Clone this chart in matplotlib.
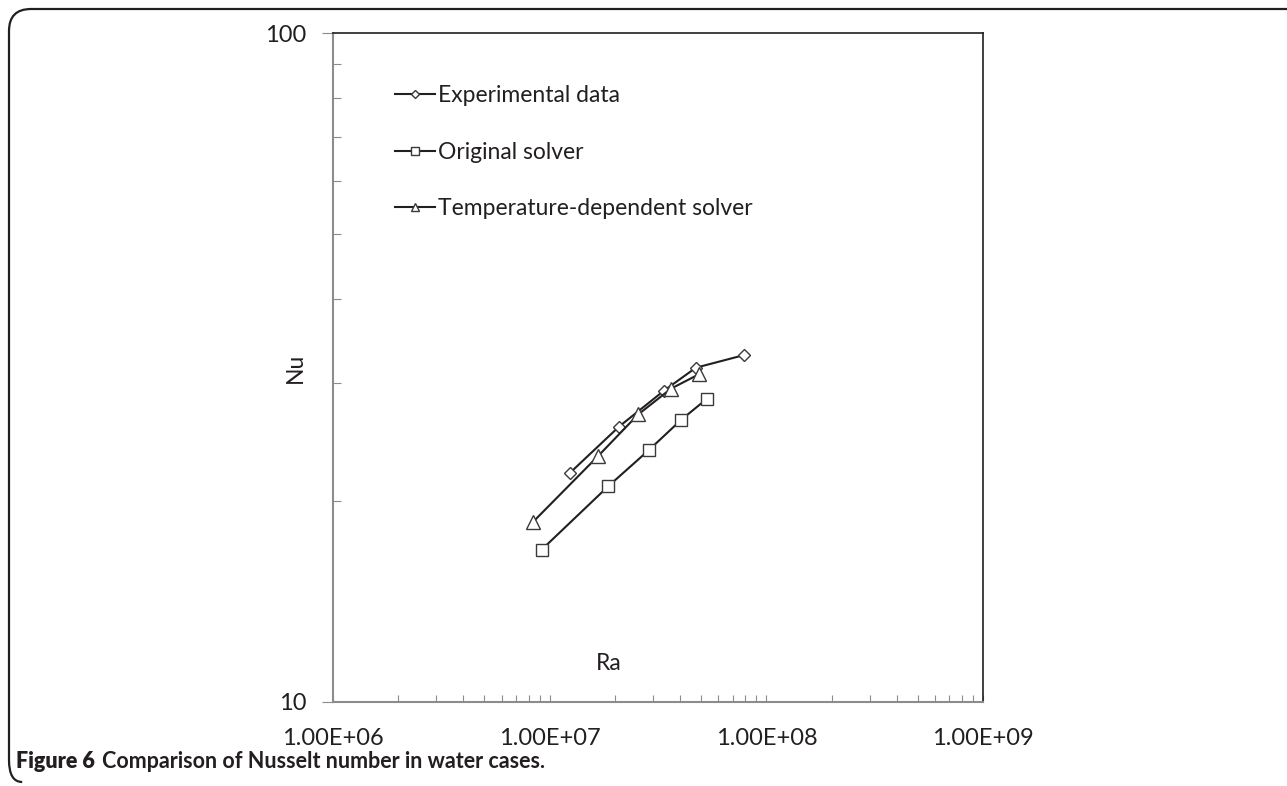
import numpy as np
import matplotlib
matplotlib.use("Agg")
from matplotlib import pyplot as plt
from matplotlib.path import Path
from matplotlib.patches import PathPatch
from matplotlib.ticker import FixedLocator, NullFormatter

plt.rcParams['font.family'] = ['Lato', 'DejaVu Sans']

# data
ra_exp = [1.24e7, 2.09e7, 3.37e7, 4.73e7, 7.88e7]
nu_exp = [22.0, 25.8, 29.2, 31.6, 33.0]

ra_orig = [9.2e6, 1.86e7, 2.87e7, 4.04e7, 5.32e7]
nu_orig = [16.9, 21.0, 23.8, 26.4, 28.4]

ra_temp = [8.4e6, 1.67e7, 2.56e7, 3.63e7, 4.89e7]
nu_temp = [18.6, 23.3, 26.9, 29.4, 30.9]

labels = ['Experimental data', 'Original solver', 'Temperature-dependent solver']
xticks = [1e6, 1e7, 1e8, 1e9]
xticklabels = ['1.00E+06', '1.00E+07', '1.00E+08', '1.00E+09']

txt = '#231f20'
W, H = 1287, 786
fig = plt.figure(figsize=(W / 100, H / 100), dpi=100)
ax = fig.add_axes([333 / W, 1 - 702 / H, 650 / W, 669 / H])

line_kw = dict(color='#231f20', lw=1.5, mfc='white', mec='#3a3a3a', mew=1.0)
ax.plot(ra_exp, nu_exp, marker='D', ms=6.5, label=labels[0], **line_kw)
ax.plot(ra_orig, nu_orig, marker='s', ms=9, label=labels[1], **line_kw)
ax.plot(ra_temp, nu_temp, marker='^', ms=9.5, label=labels[2], **line_kw)

ax.set_xscale('log')
ax.set_yscale('log')
ax.set_xlim(1e6, 1e9)
ax.set_ylim(10, 100)

ax.xaxis.set_major_locator(FixedLocator(xticks))
ax.set_xticklabels(xticklabels)
ax.xaxis.set_minor_locator(FixedLocator([m * 10 ** e for e in range(6, 9) for m in range(2, 10)]))
ax.xaxis.set_minor_formatter(NullFormatter())
ax.yaxis.set_major_locator(FixedLocator([10, 100]))
ax.set_yticklabels(['10', '100'])
ax.yaxis.set_minor_locator(FixedLocator([m * 10 for m in range(2, 10)]))
ax.yaxis.set_minor_formatter(NullFormatter())

ax.tick_params(axis='x', which='both', direction='in', length=5, width=0.8,
               color='#8c8c8c', labelsize=17, labelcolor=txt, pad=19)
ax.tick_params(axis='y', which='major', direction='out', length=8, width=0.8,
               color='#8c8c8c', labelsize=17, labelcolor=txt, pad=11)
ax.tick_params(axis='y', which='minor', direction='in', length=6, width=0.8,
               color='#8c8c8c')

for s in ['left', 'bottom']:
    ax.spines[s].set_color('#8c8c8c')
    ax.spines[s].set_linewidth(1.5)
for s in ['top', 'right']:
    ax.spines[s].set_color('#231f20')
    ax.spines[s].set_linewidth(1.2)

ax.set_ylabel('Nu', fontsize=16.5, color=txt)
ax.yaxis.set_label_coords(-0.042, 0.5)
ax.text(0.425, 0.058, 'Ra', transform=ax.transAxes, fontsize=16.5, color=txt,
        ha='center', va='center')

leg = ax.legend(loc='upper left', bbox_to_anchor=(0.063, 0.953), frameon=False,
                fontsize=16.5, handlelength=1.75, handletextpad=0.15, labelspacing=1.55,
                markerscale=0.65)
for t in leg.get_texts():
    t.set_color(txt)

# outer rounded frame (top and left edges)
r = 22
x0, y0 = 9 / W, 1 - 9 / H
rx, ry = r / W, r / H
yb = 1 - 782 / H
verts = [(1.01, y0), (x0 + rx, y0), (x0, y0), (x0, y0 - ry),
         (x0, yb + ry), (x0, yb), (x0 + rx * 0.6, yb)]
codes = [Path.MOVETO, Path.LINETO, Path.CURVE3, Path.CURVE3,
         Path.LINETO, Path.CURVE3, Path.CURVE3]
fig.patches.append(PathPatch(Path(verts, codes), transform=fig.transFigure,
                             fill=False, ec='#231f20', lw=1.6))

cap1 = fig.text(16 / W, 1 - 761 / H, 'Figure 6', fontsize=15.5, fontweight='heavy',
                color=txt, va='center')
fig.canvas.draw()
bb = cap1.get_window_extent()
fig.text(bb.x1 / W + 7 / W, 1 - 761 / H, 'Comparison of Nusselt number in water cases.',
         fontsize=15.5, fontweight='bold', color=txt, va='center')

fig.savefig('out.png', dpi=100)
